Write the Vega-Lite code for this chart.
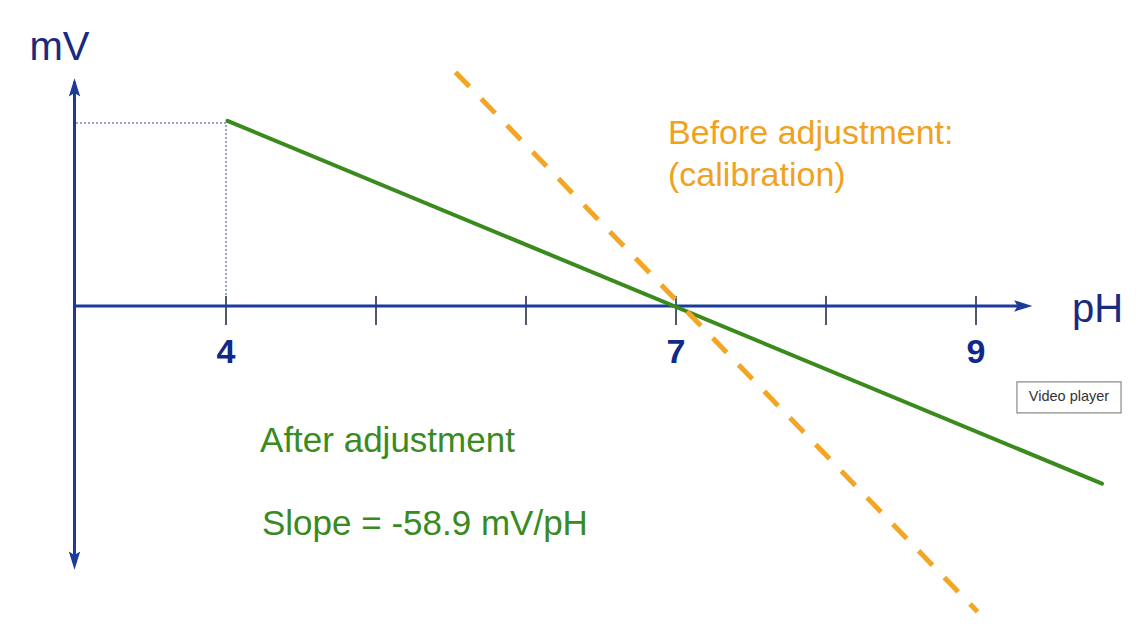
{
  "$schema": "https://vega.github.io/schema/vega-lite/v6.json",
  "width": 1142,
  "height": 635,
  "autosize": {"type": "fit", "contains": "padding"},
  "padding": 0,
  "background": "#ffffff",
  "config": {"view": {"stroke": null}},
  "datasets": {
    "yaxis": [{"pH": 2.99, "mV": -236, "pH2": 2.99, "mV2": 212}],
    "xaxis": [{"pH": 2.99, "mV": 0, "pH2": 9.32, "mV2": 0}],
    "ticks": [{"pH": 4, "mV": 9.5, "mV2": -18}, {"pH": 5, "mV": 9.5, "mV2": -18}, {"pH": 6, "mV": 9.5, "mV2": -18}, {"pH": 7, "mV": 9.5, "mV2": -18}, {"pH": 8, "mV": 9.5, "mV2": -18}, {"pH": 9, "mV": 9.5, "mV2": -18}],
    "guide": [{"pH": 3.0, "mV": 173}, {"pH": 4.0, "mV": 173}, {"pH": 4.0, "mV": 0}],
    "after": [{"pH": 4.01, "mV": 175}, {"pH": 9.84, "mV": -168}],
    "before": [{"pH": 5.53, "mV": 221}, {"pH": 9.01, "mV": -289}],
    "arrowUp": [{"pH": 2.99, "mV": 204.5}],
    "arrowDown": [{"pH": 2.99, "mV": -238.5}],
    "arrowRight": [{"pH": 9.30, "mV": 0}],
    "tickLabels": [{"pH": 4, "mV": -54, "label": "4"}, {"pH": 7, "mV": -54, "label": "7"}, {"pH": 9, "mV": -54, "label": "9"}],
    "axisTitles": [{"pH": 2.69, "mV": 232.5, "label": "mV"}, {"pH": 9.64, "mV": -15, "label": "pH"}],
    "orangeText": [{"pH": 6.947, "mV": 153, "label": "Before adjustment:"}, {"pH": 6.947, "mV": 113.4, "label": "(calibration)"}],
    "greenText": [{"pH": 4.227, "mV": -138, "label": "After adjustment"}, {"pH": 4.24, "mV": -216.4, "label": "Slope = -58.9 mV/pH"}],
    "videoBox": [{"pH": 9.273, "mV": -71.8, "pH2": 9.967, "mV2": -101.1}],
    "videoText": [{"pH": 9.62, "mV": -86.5, "label": "Video player"}]
  },
  "encoding": {
    "x": {"field": "pH", "type": "quantitative", "scale": {"domain": [2.4933, 10.1067], "nice": false, "zero": false}, "axis": null},
    "y": {"field": "mV", "type": "quantitative", "scale": {"domain": [-311.0, 289.2], "nice": false, "zero": false}, "axis": null}
  },
  "layer": [
    {"data": {"name": "guide"}, "mark": {"type": "line", "stroke": "#7a88a8", "strokeWidth": 1.5, "strokeDash": [2, 2]}, "encoding": {"order": {"value": 0}}},
    {"data": {"name": "ticks"}, "mark": {"type": "rule", "stroke": "#50586e", "strokeWidth": 2}, "encoding": {"y2": {"field": "mV2"}}},
    {"data": {"name": "yaxis"}, "mark": {"type": "rule", "stroke": "#1b3a9a", "strokeWidth": 3}, "encoding": {"x2": {"field": "pH2"}, "y2": {"field": "mV2"}}},
    {"data": {"name": "xaxis"}, "mark": {"type": "rule", "stroke": "#1b3a9a", "strokeWidth": 3}, "encoding": {"x2": {"field": "pH2"}, "y2": {"field": "mV2"}}},
    {"data": {"name": "arrowUp"}, "mark": {"type": "point", "filled": true, "opacity": 1, "color": "#1b3a9a", "shape": "M0,-1L0.5,0.6L0,0.3L-0.5,0.6Z", "size": 520, "angle": 0}},
    {"data": {"name": "arrowDown"}, "mark": {"type": "point", "filled": true, "opacity": 1, "color": "#1b3a9a", "shape": "M0,-1L0.5,0.6L0,0.3L-0.5,0.6Z", "size": 520, "angle": 180}},
    {"data": {"name": "arrowRight"}, "mark": {"type": "point", "filled": true, "opacity": 1, "color": "#1b3a9a", "shape": "M0,-1L0.5,0.6L0,0.3L-0.5,0.6Z", "size": 520, "angle": 90}},
    {"data": {"name": "after"}, "mark": {"type": "line", "stroke": "#3b8a1e", "strokeWidth": 4, "strokeCap": "round"}, "encoding": {}},
    {"data": {"name": "before"}, "mark": {"type": "line", "stroke": "#f3a524", "strokeWidth": 5, "strokeDash": [20, 17]}, "encoding": {}},
    {"data": {"name": "tickLabels"}, "mark": {"type": "text", "font": "Liberation Sans", "fontSize": 34, "fontWeight": "bold", "color": "#10298a", "align": "center", "baseline": "alphabetic"}, "encoding": {"text": {"field": "label"}}},
    {"data": {"name": "axisTitles"}, "mark": {"type": "text", "font": "Liberation Sans", "fontSize": 40, "color": "#1a2a80", "align": "left", "baseline": "alphabetic"}, "encoding": {"text": {"field": "label"}}},
    {"data": {"name": "orangeText"}, "mark": {"type": "text", "font": "Liberation Sans", "fontSize": 34, "color": "#f0a21e", "align": "left", "baseline": "alphabetic"}, "encoding": {"text": {"field": "label"}}},
    {"data": {"name": "greenText"}, "mark": {"type": "text", "font": "Liberation Sans", "fontSize": 35, "color": "#3a8a22", "align": "left", "baseline": "alphabetic"}, "encoding": {"text": {"field": "label"}}},
    {"data": {"name": "videoBox"}, "mark": {"type": "rect", "fill": "#ffffff", "stroke": "#8a8a8a", "strokeWidth": 1.2}, "encoding": {"x2": {"field": "pH2"}, "y2": {"field": "mV2"}}},
    {"data": {"name": "videoText"}, "mark": {"type": "text", "font": "Liberation Sans", "fontSize": 14.5, "color": "#333333", "align": "center", "baseline": "middle"}, "encoding": {"text": {"field": "label"}}}
  ]
}
